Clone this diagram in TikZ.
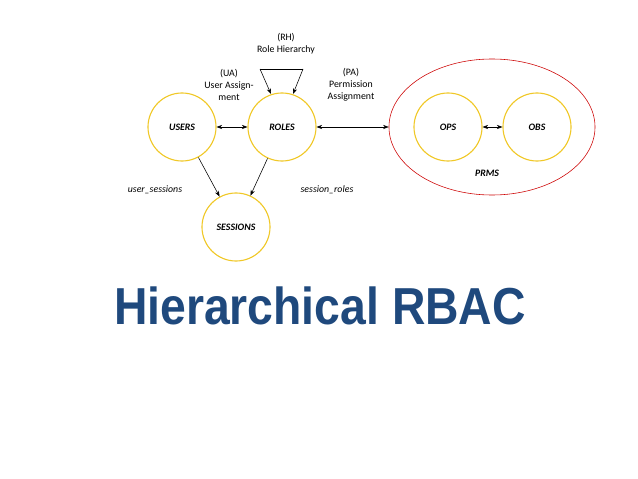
\documentclass[tikz,border=0pt]{standalone}
\usepackage{fontspec}
\setmainfont{Carlito}
\newfontfamily\titlefont{Liberation Sans}
\usetikzlibrary{arrows.meta,shapes.geometric}
\definecolor{ringyellow}{RGB}{240,200,40}
\definecolor{titleblue}{RGB}{31,73,125}
\begin{document}
\begin{tikzpicture}[x=0.025cm, y=-0.025cm,
  set/.style={circle, draw=ringyellow, thick, minimum size=1.7cm, inner sep=0pt, font=\fontsize{7}{8}\selectfont\bfseries\itshape},
  lbl/.style={align=center, font=\fontsize{7}{8.5}\selectfont},
  rel/.style={{Stealth[length=4pt]}-{Stealth[length=4pt]}},
  to/.style={-{Stealth[length=4pt]}}]
  \useasboundingbox (0,0) rectangle (638,479);

  \node (users)[set] at (182,127) {USERS};
  \node (roles)[set] at (282,127) {ROLES};
  \node (sessions)[set] at (236,227) {SESSIONS};
  \node (ops)[set] at (448,127) {OPS};
  \node (obs)[set] at (537,127) {OBS};
  \node (prms)[draw=red!80!black, ellipse, minimum width=5.15cm, minimum height=3.4cm] at (492,127) {};
  \node (prmslbl)[font=\fontsize{7}{8}\selectfont\bfseries\itshape] at (487,173) {PRMS};

  \node (rh)[lbl] at (286,44) {(RH)\\Role Hierarchy};
  \node (ua)[lbl] at (229,85) {(UA)\\User Assign-\\ment};
  \node (pa)[lbl] at (351,85) {(PA)\\Permission\\Assignment};
  \node (us)[lbl, font=\fontsize{7}{8.5}\selectfont\itshape] at (155,190) {user\_sessions};
  \node (sr)[lbl, font=\fontsize{7}{8.5}\selectfont\itshape] at (327,190) {session\_roles};

  \coordinate (loopl) at (260,69);
  \coordinate (loopr) at (303,69);
  \draw[to] (loopl) -- (271,94);
  \draw[to] (loopr) -- (293,94);
  \draw (loopl) -- (loopr);

  \draw[rel] (users) -- (roles);
  \draw[rel] (roles) -- (prms.west);
  \draw[rel] (ops) -- (obs);
  \draw[to] (users) -- (sessions);
  \draw[to] (roles) -- (sessions);

  \node (title)[font=\titlefont\fontsize{37}{40}\selectfont\bfseries, text=titleblue, xscale=0.89] at (320,306) {Hierarchical RBAC};
\end{tikzpicture}
\end{document}
